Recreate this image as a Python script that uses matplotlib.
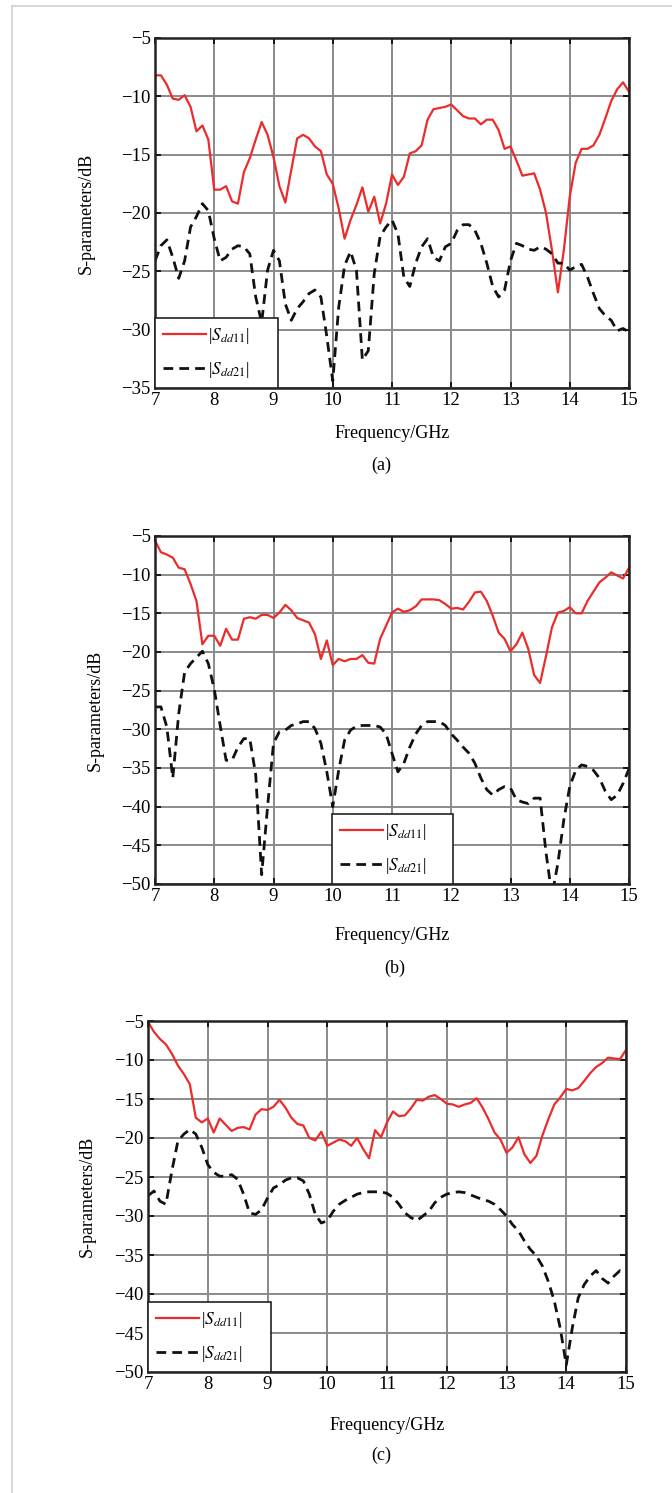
import numpy as np
import matplotlib
matplotlib.use('Agg')
import matplotlib.pyplot as plt
from matplotlib.lines import Line2D

# ── 데이터 ──
FREQ = [7.0, 7.1, 7.2, 7.3, 7.4, 7.5, 7.6, 7.7, 7.8, 7.9,
        8.0, 8.1, 8.2, 8.3, 8.4, 8.5, 8.6, 8.7, 8.8, 8.9,
        9.0, 9.1, 9.2, 9.3, 9.4, 9.5, 9.6, 9.7, 9.8, 9.9,
        10.0, 10.1, 10.2, 10.3, 10.4, 10.5, 10.6, 10.7, 10.8, 10.9,
        11.0, 11.1, 11.2, 11.3, 11.4, 11.5, 11.6, 11.7, 11.8, 11.9,
        12.0, 12.1, 12.2, 12.3, 12.4, 12.5, 12.6, 12.7, 12.8, 12.9,
        13.0, 13.1, 13.2, 13.3, 13.4, 13.5, 13.6, 13.7, 13.8, 13.9,
        14.0, 14.1, 14.2, 14.3, 14.4, 14.5, 14.6, 14.7, 14.8, 14.9,
        15.0]

# (a)
S11_A = [-8.2, -8.2, -9.0, -10.2, -10.3, -9.9, -10.9, -13.0, -12.5, -13.7,
         -18.0, -18.0, -17.7, -19.0, -19.2, -16.5, -15.3, -13.7, -12.2, -13.3,
         -15.2, -17.7, -19.1, -16.3, -13.6, -13.3, -13.6, -14.3, -14.7, -16.7,
         -17.5, -19.6, -22.2, -20.6, -19.3, -17.8, -19.9, -18.6, -20.9, -19.2,
         -16.7, -17.6, -16.9, -14.9, -14.7, -14.2, -12.0, -11.1, -11.0, -10.9,
         -10.7, -11.2, -11.7, -11.9, -11.9, -12.4, -12.0, -12.0, -12.9, -14.5,
         -14.3, -15.5, -16.8, -16.7, -16.6, -18.0, -20.0, -23.2, -26.8, -23.2,
         -18.6, -15.7, -14.5, -14.5, -14.2, -13.3, -11.9, -10.4, -9.4, -8.8,
         -9.6]
S21_A = [-24.1, -22.8, -22.3, -23.8, -25.6, -24.1, -21.2, -20.3, -19.2, -19.8,
         -22.2, -24.1, -23.8, -23.1, -22.8, -22.9, -23.5, -27.2, -29.4, -24.9,
         -23.2, -24.1, -27.8, -29.2, -28.2, -27.6, -26.9, -26.6, -27.2, -30.6,
         -34.4, -28.1, -24.5, -23.3, -24.9, -32.6, -31.8, -25.2, -22.0, -21.2,
         -20.6, -21.8, -25.5, -26.3, -24.3, -22.9, -22.2, -23.8, -24.1, -22.9,
         -22.6, -21.5, -21.0, -21.0, -21.5, -22.6, -24.3, -26.3, -27.2, -26.6,
         -24.1, -22.6, -22.8, -23.1, -23.2, -22.9, -23.1, -23.5, -24.3, -24.3,
         -24.9, -24.6, -24.4, -25.5, -26.9, -28.2, -28.8, -29.2, -30.1, -29.9,
         -30.2]

# (b)
S11_B = [-5.6, -7.1, -7.4, -7.8, -9.1, -9.3, -11.2, -13.4, -19.0, -17.9,
         -17.9, -19.2, -17.0, -18.4, -18.4, -15.7, -15.5, -15.7, -15.2, -15.2,
         -15.6, -14.9, -13.9, -14.6, -15.6, -15.9, -16.2, -17.7, -20.9, -18.5,
         -21.7, -20.9, -21.2, -20.9, -20.9, -20.4, -21.4, -21.5, -18.3, -16.6,
         -14.9, -14.4, -14.8, -14.6, -14.1, -13.2, -13.2, -13.2, -13.3, -13.8,
         -14.4, -14.3, -14.5, -13.5, -12.3, -12.2, -13.4, -15.3, -17.5, -18.3,
         -19.9, -19.0, -17.5, -19.6, -23.0, -24.0, -20.5, -16.8, -14.9, -14.7,
         -14.2, -15.0, -15.0, -13.4, -12.2, -11.0, -10.4, -9.7, -10.1, -10.5,
         -9.1]
S21_B = [-27.1, -27.1, -29.7, -36.3, -28.0, -22.6, -21.5, -20.7, -19.9, -21.5,
         -24.8, -29.5, -34.0, -34.0, -32.3, -31.2, -31.2, -35.9, -48.8, -40.0,
         -31.8, -30.3, -30.1, -29.5, -29.3, -29.0, -29.0, -29.9, -31.8, -35.5,
         -40.0, -35.3, -31.4, -30.1, -29.6, -29.5, -29.5, -29.5, -29.7, -30.6,
         -33.1, -35.5, -34.4, -32.3, -30.6, -29.5, -29.0, -29.0, -29.0, -29.5,
         -30.6, -31.4, -32.3, -33.1, -34.4, -36.3, -37.8, -38.5, -37.8, -37.4,
         -37.6, -39.1, -39.4, -39.6, -38.9, -38.9, -46.0, -51.5, -47.3, -41.7,
         -37.4, -35.3, -34.6, -34.8, -35.3, -36.3, -38.0, -39.1, -38.5, -37.0,
         -35.1]

# (c)
S11_C = [-5.1, -6.4, -7.3, -8.0, -9.2, -10.7, -11.8, -13.1, -17.4, -18.0,
         -17.5, -19.3, -17.5, -18.3, -19.1, -18.7, -18.6, -18.9, -17.0, -16.3,
         -16.4, -16.0, -15.1, -16.1, -17.4, -18.2, -18.4, -20.0, -20.3, -19.2,
         -21.0, -20.6, -20.2, -20.4, -21.0, -20.0, -21.4, -22.6, -19.0, -19.9,
         -18.0, -16.6, -17.2, -17.1, -16.2, -15.1, -15.2, -14.7, -14.5, -15.0,
         -15.6, -15.7, -16.0, -15.7, -15.5, -14.9, -16.1, -17.6, -19.3, -20.2,
         -21.9, -21.2, -19.9, -22.1, -23.2, -22.3, -19.7, -17.6, -15.7, -14.8,
         -13.7, -13.9, -13.6, -12.7, -11.7, -10.9, -10.4, -9.7, -9.8, -9.9,
         -8.7]
S21_C = [-27.4, -26.8, -28.1, -28.5, -24.2, -20.4, -19.5, -18.9, -19.5, -21.2,
         -23.4, -24.4, -24.9, -24.9, -24.7, -25.3, -27.2, -29.6, -29.8, -29.2,
         -27.7, -26.4, -26.0, -25.4, -25.1, -25.1, -25.5, -27.2, -29.8, -30.9,
         -30.6, -29.4, -28.5, -28.0, -27.6, -27.2, -27.0, -26.9, -26.9, -26.9,
         -27.1, -27.6, -28.5, -29.6, -30.2, -30.6, -30.0, -29.4, -28.3, -27.6,
         -27.2, -27.0, -26.9, -27.0, -27.3, -27.6, -27.9, -28.1, -28.5, -29.2,
         -30.0, -31.1, -31.9, -33.2, -34.3, -35.1, -36.4, -38.4, -40.9, -44.4,
         -49.1, -44.4, -40.5, -38.8, -37.7, -37.0, -38.0, -38.6, -37.7, -37.0,
         -37.3]

X_TICKS = [7, 8, 9, 10, 11, 12, 13, 14, 15]
YLIM_A = (-35, -5)
YLIM_BC = (-50, -5)
CAPTIONS = ['(a)', '(b)', '(c)']
LABELS = ['|$S_{dd11}$|', '|$S_{dd21}$|']

plt.rcParams['font.family'] = ['Liberation Serif', 'DejaVu Serif']
plt.rcParams['mathtext.fontset'] = 'stix'

W, H = 672, 1493
fig = plt.figure(figsize=(W / 100, H / 100), dpi=100)


def px_axes(left, top, right, bottom):
    return fig.add_axes([left / W, 1 - bottom / H, (right - left) / W, (bottom - top) / H])


# 페이지 테두리
fig.add_artist(Line2D([12 / W, 1], [1 - 6 / H, 1 - 6 / H], color='#cfcfcf', lw=1.2))
fig.add_artist(Line2D([12 / W, 12 / W], [0, 1 - 6 / H], color='#cfcfcf', lw=1.2))

# 범례 상자: 왼쪽 끝(px, 축 기준)과 폭(px)
panels = [
    dict(box=(155, 38, 629, 388), s11=S11_A, s21=S21_A, ylim=YLIM_A,
         leg=(0, 123), ylab_x=86, xlab_y=433, cap_y=465, cap_x=381),
    dict(box=(155, 536, 629, 884), s11=S11_B, s21=S21_B, ylim=YLIM_BC,
         leg=(177, 121), ylab_x=95, xlab_y=936, cap_y=968, cap_x=395),
    dict(box=(148, 1021, 626, 1372), s11=S11_C, s21=S21_C, ylim=YLIM_BC,
         leg=(0, 123), ylab_x=87, xlab_y=1425, cap_y=1455, cap_x=381),
]

for p, cap in zip(panels, CAPTIONS):
    left, top, right, bottom = p['box']
    aw = right - left
    ax = px_axes(left, top, right, bottom)
    ax.plot(FREQ, p['s11'], color='#ec2b2b', lw=1.6, label=LABELS[0])
    ax.plot(FREQ, p['s21'], color='#111111', lw=2.0, linestyle=(0, (3.5, 2.2)),
            label=LABELS[1])
    ax.set_xlim(7, 15)
    ax.set_ylim(*p['ylim'])
    ax.set_xticks(X_TICKS)
    ax.set_yticks(np.arange(p['ylim'][0], p['ylim'][1] + 1, 5))
    ax.grid(True, color='#8a8a8a', lw=1.4)
    ax.set_axisbelow(True)
    for sp in ax.spines.values():
        sp.set_linewidth(1.8)
        sp.set_color('#222222')
    ax.tick_params(direction='in', length=4, width=1.2, labelsize=13.5, pad=3,
                   top=True, right=True)
    ax.set_yticklabels([f'\u2212{abs(v)}' for v in ax.get_yticks().astype(int)])

    lx, lw_ = p['leg']
    leg = ax.legend(loc='lower left', bbox_to_anchor=(lx / aw, 0, lw_ / aw, 0.2),
                    mode='expand', borderaxespad=0, fancybox=False,
                    fontsize=12.5, handlelength=2.5, handletextpad=0.1,
                    labelspacing=0.8, borderpad=0.45, framealpha=1)
    leg.get_frame().set_edgecolor('#222222')
    leg.get_frame().set_linewidth(1.2)

    cy = (top + bottom) / 2
    fig.text(p['ylab_x'] / W, 1 - cy / H, 'S-parameters/dB', rotation=90,
             ha='center', va='center', fontsize=13)
    fig.text((left + right) / 2 / W, 1 - p['xlab_y'] / H, 'Frequency/GHz',
             ha='center', va='center', fontsize=13)
    fig.text(p['cap_x'] / W, 1 - p['cap_y'] / H, cap, ha='center', va='center',
             fontsize=13)

fig.savefig('out.png', dpi=100)
